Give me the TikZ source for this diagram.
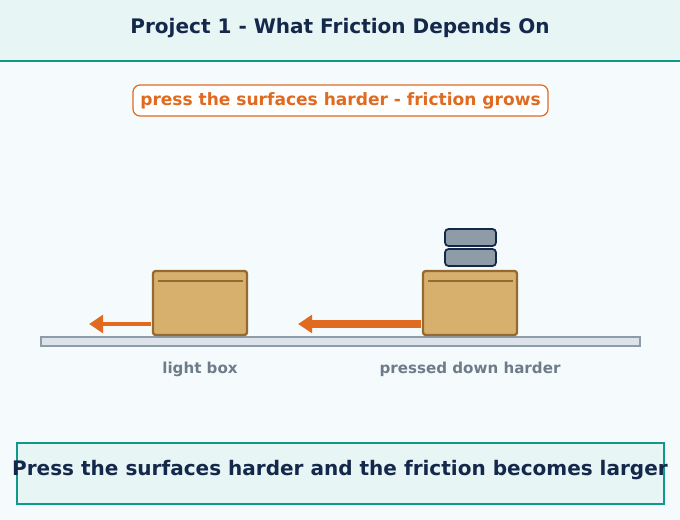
\documentclass[tikz,border=0pt]{standalone}
\usepackage{fontspec}
\setmainfont{DejaVu Sans}
\usetikzlibrary{arrows.meta}
\definecolor{navy}{HTML}{14284B}
\definecolor{teal}{HTML}{0E9A8A}
\definecolor{paleteal}{HTML}{E8F5F5}
\definecolor{bg}{HTML}{F5FAFD}
\definecolor{rust}{HTML}{E06A20}
\definecolor{wood}{HTML}{D8B06E}
\definecolor{woodedge}{HTML}{946A30}
\definecolor{slate}{HTML}{8E9CA8}
\definecolor{plank}{HTML}{DDE3EA}
\definecolor{note}{HTML}{6E7C8A}
\tikzset{
  crate/.style={fill=wood, draw=woodedge, line width=1.3pt, rounded corners=1.5pt},
  weight/.style={fill=slate, draw=navy, line width=1pt, rounded corners=2pt},
  push/.style={draw=rust, -{Triangle[length=8pt,width=10pt]}},
  caption/.style={text=note, font=\bfseries\fontsize{8.6}{10}\selectfont}
}
\begin{document}
\begin{tikzpicture}[x=0.02cm, y=-0.02cm]
    \fill[bg] (0,0) rectangle (680,520);
    \useasboundingbox (0,0) rectangle (680,520);

    \fill[paleteal] (0,0) rectangle (680,60);
    \draw[teal, line width=1.5pt] (0,61) -- (680,61);
    \node[text=navy, font=\bfseries\fontsize{11.4}{13}\selectfont] (title) at (340,28) {Project 1 - What Friction Depends On};

    \node[draw=rust, fill=white, rounded corners=4pt, text=rust, line width=0.7pt,
      minimum width=415*0.02cm, minimum height=31*0.02cm,
      font=\bfseries\fontsize{9.7}{11}\selectfont] (tag) at (340.5,100.5) {press the surfaces harder - friction grows};

    % table top
    \draw[fill=plank, draw=slate, line width=0.8pt] (41,337) rectangle (640,346);

    % light box
    \draw[crate] (153,271) rectangle (247,335);
    \draw[woodedge, line width=1pt] (158,281) -- (243,281);
    \coordinate (light) at (151,324);
    \coordinate (lightend) at (89,324);
    \draw[push, line width=2.4pt] (light) -- (lightend);
    \node[caption] (lightlabel) at (200,369) {light box};

    % pressed box
    \draw[crate] (423,271) rectangle (517,335);
    \draw[woodedge, line width=1pt] (428,281) -- (513,281);
    \draw[weight] (445,229) rectangle (496,246);
    \draw[weight] (445,249) rectangle (496,266);
    \coordinate (heavy) at (421,324);
    \coordinate (heavyend) at (298,324);
    \draw[push, line width=4.2pt] (heavy) -- (heavyend);
    \node[caption] (heavylabel) at (470,369) {pressed down harder};

    \draw[teal, fill=paleteal, line width=0.8pt] (17,443) rectangle (664,504);
    \node[text=navy, font=\bfseries\fontsize{11.4}{13}\selectfont] (summary) at (340,470) {Press the surfaces harder and the friction becomes larger};
\end{tikzpicture}
\end{document}
